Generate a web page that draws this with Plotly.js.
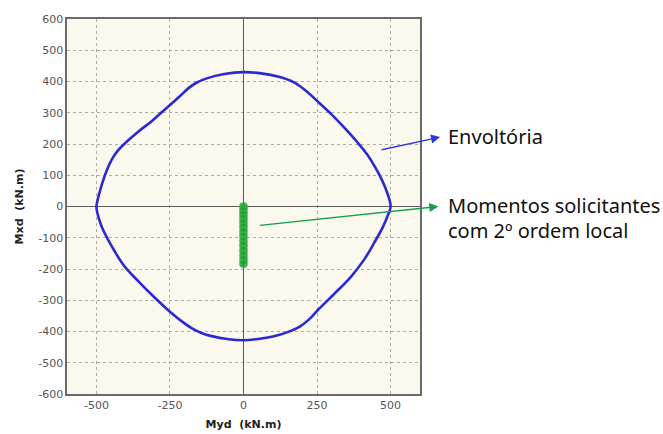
<!DOCTYPE html>
<html>
<head>
<meta charset="utf-8">
<script src="https://cdn.plot.ly/plotly-3.0.1.min.js"></script>
<style>html,body{margin:0;padding:0;background:#fff;}</style>
</head>
<body>
<div id="chart" style="width:663px;height:434px;"></div>
<script>
// Envelope (Envoltória), Myd (x) and Mxd (y), kN.m, clockwise from the top
const envMyd = [0, 60, 120, 170, 210, 250, 300, 345, 385, 420, 448, 472, 490, 500,
  492, 474, 445, 410, 365, 308, 252, 222, 190, 150, 100, 50, 0,
  -50, -112, -145, -175, -212, -250, -305, -362, -408, -440, -460, -482, -497, -500,
  -496, -487, -465, -448, -428, -400, -360, -316, -280, -246, -212, -188, -160, -125, -65, 0];
const envMxd = [430, 426, 415, 398, 372, 338, 294, 250, 208, 167, 125, 82, 40, 0,
  -25, -65, -115, -170, -225, -280, -332, -362, -385, -402, -416, -424, -428,
  -425, -414, -404, -390, -366, -337, -289, -235, -187, -140, -107, -65, -20, 0,
  20, 53, 115, 150, 178, 205, 238, 270, 300, 328, 357, 378, 396, 410, 424, 430];

// Solicitating moments with local 2nd order (green points)
const solMyd = [0, 0, 0, 0, 0, 0, 0, 0, 0, 0, 0, 0, 0, 0];
const solMxd = [0, -12, -25, -38, -52, -66, -80, -95, -110, -125, -140, -155, -170, -183];

const xTicks = [-500, -250, 0, 250, 500];
const yTicks = [-600, -500, -400, -300, -200, -100, 0, 100, 200, 300, 400, 500, 600];

const labelEnv = "Envoltória";
const labelSol1 = "Momentos solicitantes";
const labelSol2 = "com 2º ordem local";
const xTitle = "Myd&nbsp;&nbsp;(kN.m)";
const yTitle = "Mxd&nbsp;&nbsp;(kN.m)";

const traces = [
  {x: envMyd, y: envMxd, mode: 'lines', type: 'scatter',
   line: {color: '#2a2ad0', width: 2.6, shape: 'spline', smoothing: 1.1}, hoverinfo: 'none'},
  {x: solMyd, y: solMxd, mode: 'markers', type: 'scatter',
   marker: {color: 'rgba(30,160,50,0.85)', size: 8, line: {color: 'rgba(60,190,70,0.5)', width: 1.5}}, hoverinfo: 'none'}
];

const tickFont = {family: 'DejaVu Sans, Verdana, sans-serif', size: 11, color: '#555'};
const titleFont = {family: 'DejaVu Sans, Verdana, sans-serif', size: 11, color: '#222', weight: 'bold'};
const noteFont = {family: 'Noto Sans, Open Sans, sans-serif', size: 20, color: '#111'};

const axisCommon = {
  showgrid: true, gridcolor: '#b0aca2', griddash: 'dot', gridwidth: 1,
  zeroline: true, zerolinecolor: '#5a5a5a', zerolinewidth: 1.6,
  showline: true, linecolor: '#6a6a6a', linewidth: 1.6, mirror: true,
  ticks: '', tickfont: tickFont, fixedrange: true
};

const layout = {
  width: 663, height: 434,
  margin: {l: 67, r: 243, t: 19, b: 40},
  paper_bgcolor: '#ffffff', plot_bgcolor: '#fbf8ee',
  showlegend: false,
  xaxis: Object.assign({}, axisCommon, {
    range: [-600, 600], tickvals: xTicks, ticktext: xTicks.map(String),
    title: {text: xTitle, font: titleFont, standoff: 9}
  }),
  yaxis: Object.assign({}, axisCommon, {
    range: [-600, 600], tickvals: yTicks, ticktext: yTicks.map(String),
    title: {text: yTitle, font: titleFont, standoff: 12}
  }),
  annotations: [
    {xref: 'paper', yref: 'paper', x: 1.057, y: 0.685, axref: 'pixel', ayref: 'pixel', ax: -60, ay: 13,
     showarrow: true, arrowhead: 2, arrowsize: 1.3, arrowwidth: 1.4, arrowcolor: '#2b3be0', text: ''},
    {xref: 'paper', yref: 'paper', x: 1.052, y: 0.50, axref: 'pixel', ayref: 'pixel', ax: -180, ay: 19,
     showarrow: true, arrowhead: 2, arrowsize: 1.3, arrowwidth: 1.4, arrowcolor: '#12a04a', text: ''},
    {xref: 'paper', yref: 'paper', x: 1.074, y: 0.688, xanchor: 'left', yanchor: 'middle', showarrow: false,
     text: labelEnv, font: noteFont},
    {xref: 'paper', yref: 'paper', x: 1.074, y: 0.503, xanchor: 'left', yanchor: 'middle', showarrow: false,
     text: labelSol1, font: noteFont},
    {xref: 'paper', yref: 'paper', x: 1.074, y: 0.437, xanchor: 'left', yanchor: 'middle', showarrow: false,
     text: labelSol2, font: noteFont}
  ]
};

Plotly.newPlot('chart', traces, layout, {displayModeBar: false, staticPlot: true});
</script>
</body>
</html>
